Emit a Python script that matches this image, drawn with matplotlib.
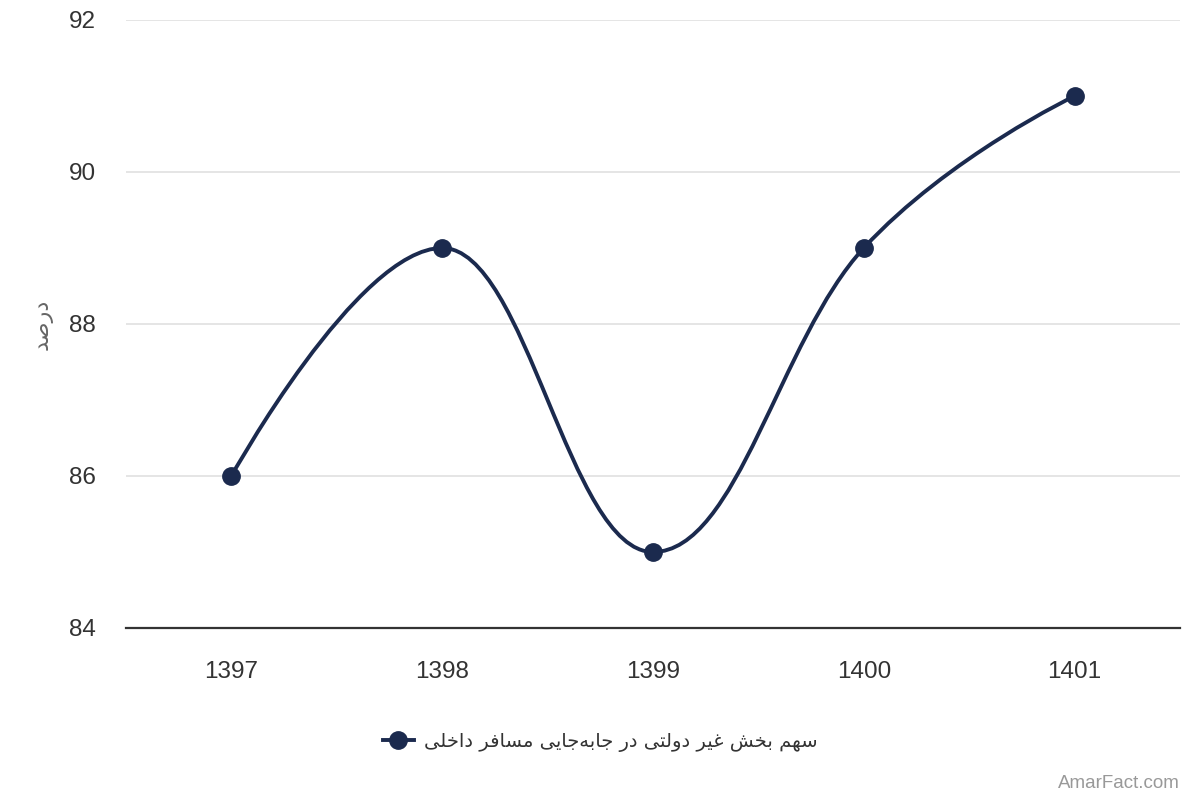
import matplotlib
matplotlib.use("Agg")
import matplotlib.pyplot as plt
from matplotlib.path import Path
from matplotlib.patches import PathPatch
from matplotlib.lines import Line2D

categories = ["1397", "1398", "1399", "1400", "1401"]
values = [86, 89, 85, 89, 91]
y_ticks = [84, 86, 88, 90, 92]
series_name = "سهم بخش غیر دولتی در جابه‌جایی مسافر داخلی"
y_title = "درصد"
credit = "AmarFact.com"

# --- minimal Persian shaping (presentation forms) + visual reordering ---
FORMS = {
    '\u0627': ('\uFE8D', '\uFE8E', None, None),
    '\u0628': ('\uFE8F', '\uFE90', '\uFE91', '\uFE92'),
    '\u062A': ('\uFE95', '\uFE96', '\uFE97', '\uFE98'),
    '\u062C': ('\uFE9D', '\uFE9E', '\uFE9F', '\uFEA0'),
    '\u062E': ('\uFEA5', '\uFEA6', '\uFEA7', '\uFEA8'),
    '\u062F': ('\uFEA9', '\uFEAA', None, None),
    '\u0631': ('\uFEAD', '\uFEAE', None, None),
    '\u0633': ('\uFEB1', '\uFEB2', '\uFEB3', '\uFEB4'),
    '\u0634': ('\uFEB5', '\uFEB6', '\uFEB7', '\uFEB8'),
    '\u0635': ('\uFEB9', '\uFEBA', '\uFEBB', '\uFEBC'),
    '\u063A': ('\uFECD', '\uFECE', '\uFECF', '\uFED0'),
    '\u0641': ('\uFED1', '\uFED2', '\uFED3', '\uFED4'),
    '\u0644': ('\uFEDD', '\uFEDE', '\uFEDF', '\uFEE0'),
    '\u0645': ('\uFEE1', '\uFEE2', '\uFEE3', '\uFEE4'),
    '\u0647': ('\uFEE9', '\uFEEA', '\uFEEB', '\uFEEC'),
    '\u0648': ('\uFEED', '\uFEEE', None, None),
    '\u06CC': ('\uFEEF', '\uFEF0', '\uFEF3', '\uFEF4'),
}


def shape(text):
    chars = list(text)
    out = []
    n = len(chars)
    for i, c in enumerate(chars):
        if c not in FORMS:
            if c == '\u200c':
                continue
            out.append(c)
            continue
        prev = chars[i - 1] if i > 0 else None
        nxt = chars[i + 1] if i + 1 < n else None
        joins_prev = prev in FORMS and FORMS[prev][2] is not None
        joins_next = nxt in FORMS and FORMS[c][2] is not None
        iso, fin, ini, med = FORMS[c]
        if joins_prev and joins_next:
            out.append(med)
        elif joins_prev:
            out.append(fin)
        elif joins_next:
            out.append(ini)
        else:
            out.append(iso)
    return ''.join(reversed(out))


def spline_path(xs, ys):
    smoothing = 1.5
    denom = smoothing + 1
    n = len(xs)
    lc = [None] * n
    rc = [None] * n
    for i in range(1, n - 1):
        px, py = xs[i], ys[i]
        lx, ly = xs[i - 1], ys[i - 1]
        nx, ny = xs[i + 1], ys[i + 1]
        lcx = (smoothing * px + lx) / denom
        lcy = (smoothing * py + ly) / denom
        rcx = (smoothing * px + nx) / denom
        rcy = (smoothing * py + ny) / denom
        corr = 0
        if rcx != lcx:
            corr = (rcy - lcy) * (rcx - px) / (rcx - lcx) + py - rcy
        lcy += corr
        rcy += corr
        if lcy > ly and lcy > py:
            lcy = max(ly, py); rcy = 2 * py - lcy
        elif lcy < ly and lcy < py:
            lcy = min(ly, py); rcy = 2 * py - lcy
        if rcy > ny and rcy > py:
            rcy = max(ny, py); lcy = 2 * py - rcy
        elif rcy < ny and rcy < py:
            rcy = min(ny, py); lcy = 2 * py - rcy
        lc[i] = (lcx, lcy)
        rc[i] = (rcx, rcy)
    verts = [(xs[0], ys[0])]
    codes = [Path.MOVETO]
    for i in range(1, n):
        c1 = rc[i - 1] if rc[i - 1] is not None else (xs[i - 1], ys[i - 1])
        c2 = lc[i] if lc[i] is not None else (xs[i], ys[i])
        verts += [c1, c2, (xs[i], ys[i])]
        codes += [Path.CURVE4] * 3
    return Path(verts, codes)


LINE = "#1b2a4e"
plt.rcParams['font.family'] = ['Liberation Sans', 'DejaVu Sans']

fig = plt.figure(figsize=(12, 8), dpi=100)
ax = fig.add_axes([0.105, 0.215, 0.8783, 0.76])

xs = list(range(len(categories)))
ax.add_patch(PathPatch(spline_path(xs, values), facecolor='none',
                       edgecolor=LINE, lw=2.8, zorder=3, capstyle='round'))
ax.plot(xs, values, linestyle='none', marker='o', markersize=12.5,
        color=LINE, zorder=4, clip_on=False)

ax.set_xlim(-0.5, len(categories) - 0.5)
ax.set_ylim(y_ticks[0], y_ticks[-1])
ax.set_yticks(y_ticks)
ax.set_xticks(xs)
ax.set_xticklabels(categories)
ax.grid(axis='y', color='#e0e0e0', lw=1.2)
ax.set_axisbelow(True)
for s in ['top', 'right', 'left']:
    ax.spines[s].set_visible(False)
ax.spines['bottom'].set_color('#333333')
ax.spines['bottom'].set_linewidth(1.6)
ax.spines['bottom'].set_zorder(2.5)
ax.tick_params(axis='y', length=0, pad=21.5, labelsize=17.5, labelcolor='#333333')
ax.tick_params(axis='x', length=0, pad=24, labelsize=17.5, labelcolor='#333333')

ax.set_ylabel(shape(y_title), family=['DejaVu Sans'], fontsize=16,
              color='#666666', labelpad=12)

handle = Line2D([], [], color=LINE, lw=2.8, marker='o', markersize=12.5)
leg = fig.legend([handle], [shape(series_name)], loc='center',
                 bbox_to_anchor=(0.5, 0.0725), frameon=False,
                 prop={'family': ['DejaVu Sans'], 'size': 14},
                 handlelength=1.6, handletextpad=0.5)
for t in leg.get_texts():
    t.set_color('#333333')

fig.text(0.983, 0.021, credit, ha='right', va='center', fontsize=13.5,
         color='#999999')

fig.savefig('out.png', dpi=100)
